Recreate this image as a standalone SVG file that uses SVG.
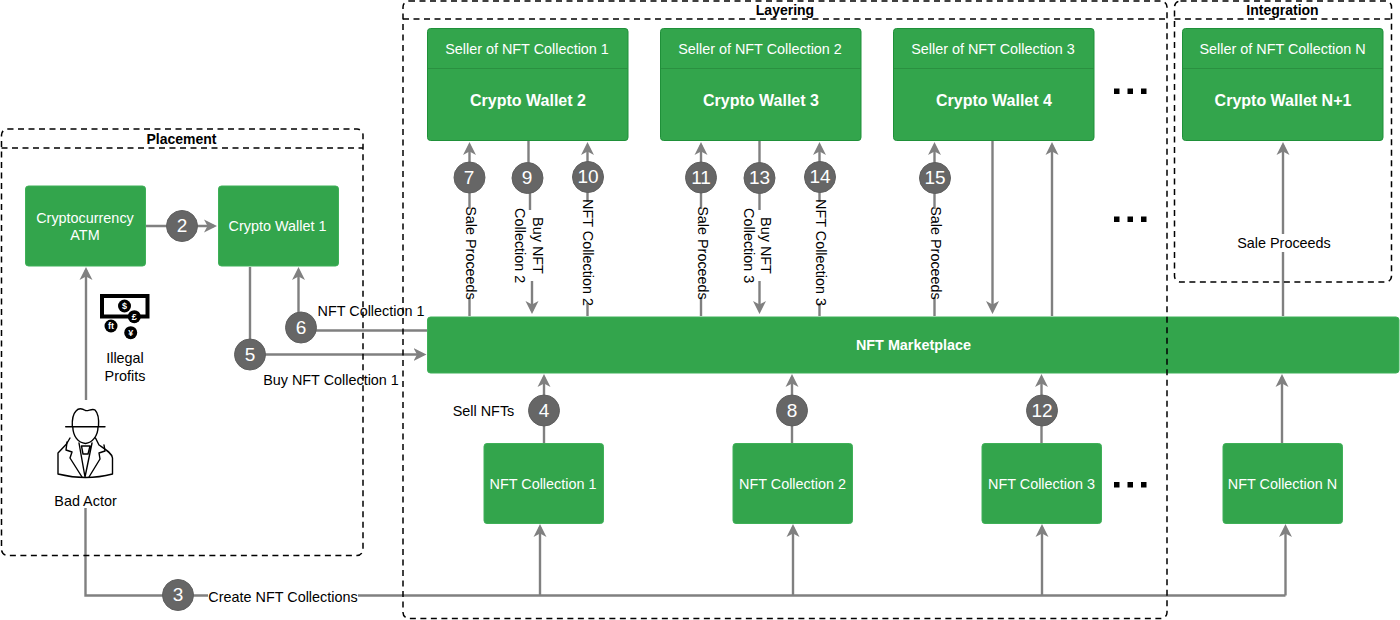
<svg xmlns="http://www.w3.org/2000/svg" width="1400" height="620" viewBox="0 0 1400 620">
<style>
text{font-family:"Liberation Sans",Arial,sans-serif;font-size:14.4px;fill:#000;text-anchor:middle;dominant-baseline:central}
.g{fill:#33a54c;stroke:#3fb058;stroke-width:1}
.s{fill:#33a54c;stroke:#1f9039;stroke-width:1}
.dv{stroke:#2a9040;stroke-width:1}
.t{fill:#fff}
.b{font-weight:bold;fill:#fff}
.p{font-size:14px;font-weight:bold}
.h{font-size:16px;font-weight:bold;fill:#fff}
.c{fill:#666;stroke:#5f5f5f}
.n{font-size:19px;fill:#fff}
.l{fill:none;stroke:#808080;stroke-width:2.4}
.a{marker-end:url(#arr)}
.bg{fill:#fff}
.d{fill:none;stroke:#000;stroke-width:1.5;stroke-dasharray:6 4.5}
.k{fill:#000}
.i{fill:none;stroke:#000;stroke-width:1.4;stroke-linejoin:round;stroke-linecap:round}
.m{font-size:9px;font-weight:bold;fill:#fff}
</style>
<defs>
<marker id="arr" markerUnits="userSpaceOnUse" markerWidth="16" markerHeight="16" refX="10" refY="8" orient="auto">
<path d="M13,8 L0,1.5 L3.5,8 L0,14.5 Z" fill="#808080"/>
</marker>
</defs>
<rect width="1400" height="620" fill="#fff"/>
<g id="connectors">
<path class="l a" d="M86,400 V270"/>
<path class="l a" d="M146,226 H214"/>
<path class="l a" d="M250,267 V354.5 H423.5"/>
<path class="l a" d="M427,330.5 H301 M298.5,320 V270"/>
<path class="l" d="M85.5,508 V595.5 H1285.5"/>
<path class="l a" d="M540,595 V527"/>
<path class="l a" d="M793,595 V527"/>
<path class="l a" d="M1042,595 V527"/>
<path class="l a" d="M1285.5,595.5 V527"/>
<path class="l a" d="M544,443 V377"/>
<path class="l a" d="M792,443 V377"/>
<path class="l a" d="M1041.5,443 V377"/>
<path class="l a" d="M1282,443 V377"/>
<path class="l a" d="M469.5,316 V145"/>
<path class="l" d="M528.5,141 V178 M530,178 V212"/>
<path class="l a" d="M532,281 V311"/>
<path class="l a" d="M587.5,316 V145"/>
<path class="l a" d="M701,316 V145"/>
<path class="l a" d="M759.5,141 V311"/>
<path class="l a" d="M819.5,316 V145"/>
<path class="l a" d="M934.5,316 V145"/>
<path class="l a" d="M992.5,141 V311"/>
<path class="l a" d="M1052,316 V145"/>
<path class="l a" d="M1283,316 V145"/>
</g>
<g id="labels">
<rect class="bg" x="463" y="209" width="16" height="88"/>
<text transform="translate(470.7 253) rotate(90)">Sale Proceeds</text>
<rect class="bg" x="512" y="210" width="34" height="71"/>
<text transform="translate(520 245.7) rotate(90)">Collection 2</text>
<text transform="translate(537.6 245.5) rotate(90)">Buy NFT</text>
<rect class="bg" x="580" y="202" width="16" height="101"/>
<text transform="translate(588 252.5) rotate(90)">NFT Collection 2</text>
<rect class="bg" x="695" y="209" width="16" height="88"/>
<text transform="translate(702.7 253) rotate(90)">Sale Proceeds</text>
<rect class="bg" x="741" y="210" width="34" height="71"/>
<text transform="translate(749 245.7) rotate(90)">Collection 3</text>
<text transform="translate(766 245.5) rotate(90)">Buy NFT</text>
<rect class="bg" x="813" y="202" width="16" height="101"/>
<text transform="translate(821 252.5) rotate(90)">NFT Collection 3</text>
<rect class="bg" x="928" y="209" width="16" height="88"/>
<text transform="translate(935.7 253) rotate(90)">Sale Proceeds</text>
<rect class="bg" x="1240" y="234" width="88" height="18"/>
<text x="1284" y="243">Sale Proceeds</text>
<rect class="bg" x="208" y="587" width="150" height="18"/>
<text x="283" y="596.5">Create NFT Collections</text>
<text x="371" y="310.5">NFT Collection 1</text>
<text x="331" y="380">Buy NFT Collection 1</text>
<text x="483.5" y="410.5">Sell NFTs</text>
<text x="125" y="358">Illegal</text>
<text x="125" y="376">Profits</text>
<text x="85.5" y="501">Bad Actor</text>
</g>
<g id="node-atm"><rect class="g" x="25.5" y="186" width="120" height="80" rx="3"/><text class="t" x="85" y="217.5">Cryptocurrency</text><text class="t" x="85" y="235">ATM</text></g>
<g id="node-wallet1"><rect class="g" x="218.5" y="186" width="120" height="80" rx="3"/><text class="t" x="277.5" y="226">Crypto Wallet 1</text></g>
<g id="node-seller1"><rect class="s" x="427.5" y="28.5" width="200.5" height="112" rx="3"/><line class="dv" x1="428" y1="68.5" x2="628" y2="68.5"/><text class="t" x="527" y="48.5">Seller of NFT Collection 1</text><text class="h" x="528" y="100">Crypto Wallet 2</text></g>
<g id="node-seller2"><rect class="s" x="660.5" y="28.5" width="200.5" height="112" rx="3"/><line class="dv" x1="661" y1="68.5" x2="861" y2="68.5"/><text class="t" x="760" y="48.5">Seller of NFT Collection 2</text><text class="h" x="761" y="100">Crypto Wallet 3</text></g>
<g id="node-seller3"><rect class="s" x="893.5" y="28.5" width="200.5" height="112" rx="3"/><line class="dv" x1="894" y1="68.5" x2="1094" y2="68.5"/><text class="t" x="993" y="48.5">Seller of NFT Collection 3</text><text class="h" x="994" y="100">Crypto Wallet 4</text></g>
<g id="node-sellerN"><rect class="s" x="1182.5" y="28.5" width="200.5" height="112" rx="3"/><line class="dv" x1="1183" y1="68.5" x2="1383" y2="68.5"/><text class="t" x="1282.5" y="48.5">Seller of NFT Collection N</text><text class="h" x="1283" y="100">Crypto Wallet N+1</text></g>
<g id="node-marketplace"><rect class="g" x="427.5" y="317" width="971.5" height="56" rx="3"/><text class="b" x="913.5" y="344.5">NFT Marketplace</text></g>
<g id="node-coll1"><rect class="g" x="484" y="443.5" width="119.5" height="80" rx="3"/><text class="t" x="543" y="483.5">NFT Collection 1</text></g>
<g id="node-coll2"><rect class="g" x="733" y="443.5" width="119.5" height="80" rx="3"/><text class="t" x="792.5" y="483.5">NFT Collection 2</text></g>
<g id="node-coll3"><rect class="g" x="982" y="443.5" width="119.5" height="80" rx="3"/><text class="t" x="1041.5" y="483.5">NFT Collection 3</text></g>
<g id="node-collN"><rect class="g" x="1223" y="443.5" width="119.5" height="80" rx="3"/><text class="t" x="1282.5" y="483.5">NFT Collection N</text></g>
<g id="badges">
<g id="step-2"><circle class="c" cx="182" cy="226" r="15.5"/><text class="n" x="182" y="225.5">2</text></g>
<g id="step-3"><circle class="c" cx="178" cy="595" r="15.5"/><text class="n" x="178" y="594.5">3</text></g>
<g id="step-4"><circle class="c" cx="544" cy="410.5" r="15.5"/><text class="n" x="544" y="410">4</text></g>
<g id="step-5"><circle class="c" cx="250" cy="354.5" r="15.5"/><text class="n" x="250" y="354">5</text></g>
<g id="step-6"><circle class="c" cx="301" cy="327.5" r="15.5"/><text class="n" x="301" y="327">6</text></g>
<g id="step-7"><circle class="c" cx="469.5" cy="177.5" r="15.5"/><text class="n" x="469" y="177">7</text></g>
<g id="step-8"><circle class="c" cx="792" cy="410.5" r="15.5"/><text class="n" x="792" y="410">8</text></g>
<g id="step-9"><circle class="c" cx="527.5" cy="178" r="15.5"/><text class="n" x="527" y="177.5">9</text></g>
<g id="step-10"><circle class="c" cx="588" cy="177" r="15.5"/><text class="n" x="588" y="176.5">10</text></g>
<g id="step-11"><circle class="c" cx="701" cy="177.5" r="15.5"/><text class="n" x="701" y="177">11</text></g>
<g id="step-12"><circle class="c" cx="1042" cy="410.5" r="15.5"/><text class="n" x="1042" y="410">12</text></g>
<g id="step-13"><circle class="c" cx="759.5" cy="178" r="15.5"/><text class="n" x="759.5" y="177.5">13</text></g>
<g id="step-14"><circle class="c" cx="820" cy="177" r="15.5"/><text class="n" x="820" y="176.5">14</text></g>
<g id="step-15"><circle class="c" cx="935" cy="178" r="15.5"/><text class="n" x="935" y="177.5">15</text></g>
</g>
<g id="ellipsis">
<rect class="k" x="1114" y="88.5" width="5.5" height="5.5"/><rect class="k" x="1127.5" y="88.5" width="5.5" height="5.5"/><rect class="k" x="1141" y="88.5" width="5.5" height="5.5"/>
<rect class="k" x="1114" y="216.5" width="5.5" height="5.5"/><rect class="k" x="1127.5" y="216.5" width="5.5" height="5.5"/><rect class="k" x="1141" y="216.5" width="5.5" height="5.5"/>
<rect class="k" x="1114" y="482" width="5.5" height="5.5"/><rect class="k" x="1127.5" y="482" width="5.5" height="5.5"/><rect class="k" x="1141" y="482" width="5.5" height="5.5"/>
</g>
<g id="icon-money">
<rect x="102" y="296" width="45.5" height="20.5" fill="#fff" stroke="#000" stroke-width="4"/>
<circle class="k" cx="124.5" cy="306" r="6.5"/><circle class="k" cx="134.3" cy="316.7" r="6.5"/><circle class="k" cx="111" cy="326" r="6.5"/><circle class="k" cx="130.7" cy="332.7" r="6.5"/>
<text class="m" x="124.5" y="306">$</text><text class="m" x="134.3" y="316.7">£</text><text class="m" x="111" y="326">ft</text><text class="m" x="130.7" y="332.7">¥</text>
</g>
<g id="icon-actor">
<path class="i" d="M65.7,426.7 H105 M72.3,426.7 C72,420 73,414 76,411 C79,407.5 83,409 85.5,410.5 C88,411.5 92,408 95,410 C98,413 99,420 98.5,426.7"/>
<path class="i" d="M72.8,427 C73,436 78,443 85.5,443.5 C92,443 98,436 98,427"/>
<path class="i" d="M70,438 L66.5,444 L58,453 C58,453 58,452 58,474 C66,476 75,477.5 85.5,477.5 C96,477.5 105,476 112.5,474 V458 C112,453 105,449 99,445 L95.5,438"/>
<path class="i" d="M67,442 L66,450 L72,452 L70,458 L82,477 M104,445 L105,451 L99,453 L100,459 L89,477"/>
<path class="i" d="M79,443 L85,477 L92,443 M81.5,446 H90 L88,454 H83 Z"/>
</g>
<g id="placement">
<rect class="d" x="1.5" y="129" width="361.5" height="426.5" rx="6"/><line class="d" x1="1.5" y1="148" x2="363" y2="148"/><text class="p" x="181.5" y="139">Placement</text>
</g>
<g id="layering">
<rect class="d" x="403" y="1" width="764" height="617.5" rx="6"/><line class="d" x1="403" y1="19" x2="1167" y2="19"/><text class="p" x="785" y="10">Layering</text>
</g>
<g id="integration">
<rect class="d" x="1174.5" y="1" width="217" height="281" rx="6"/><line class="d" x1="1174.5" y1="19" x2="1391.5" y2="19"/><text class="p" x="1282.5" y="10">Integration</text>
</g>
</svg>
